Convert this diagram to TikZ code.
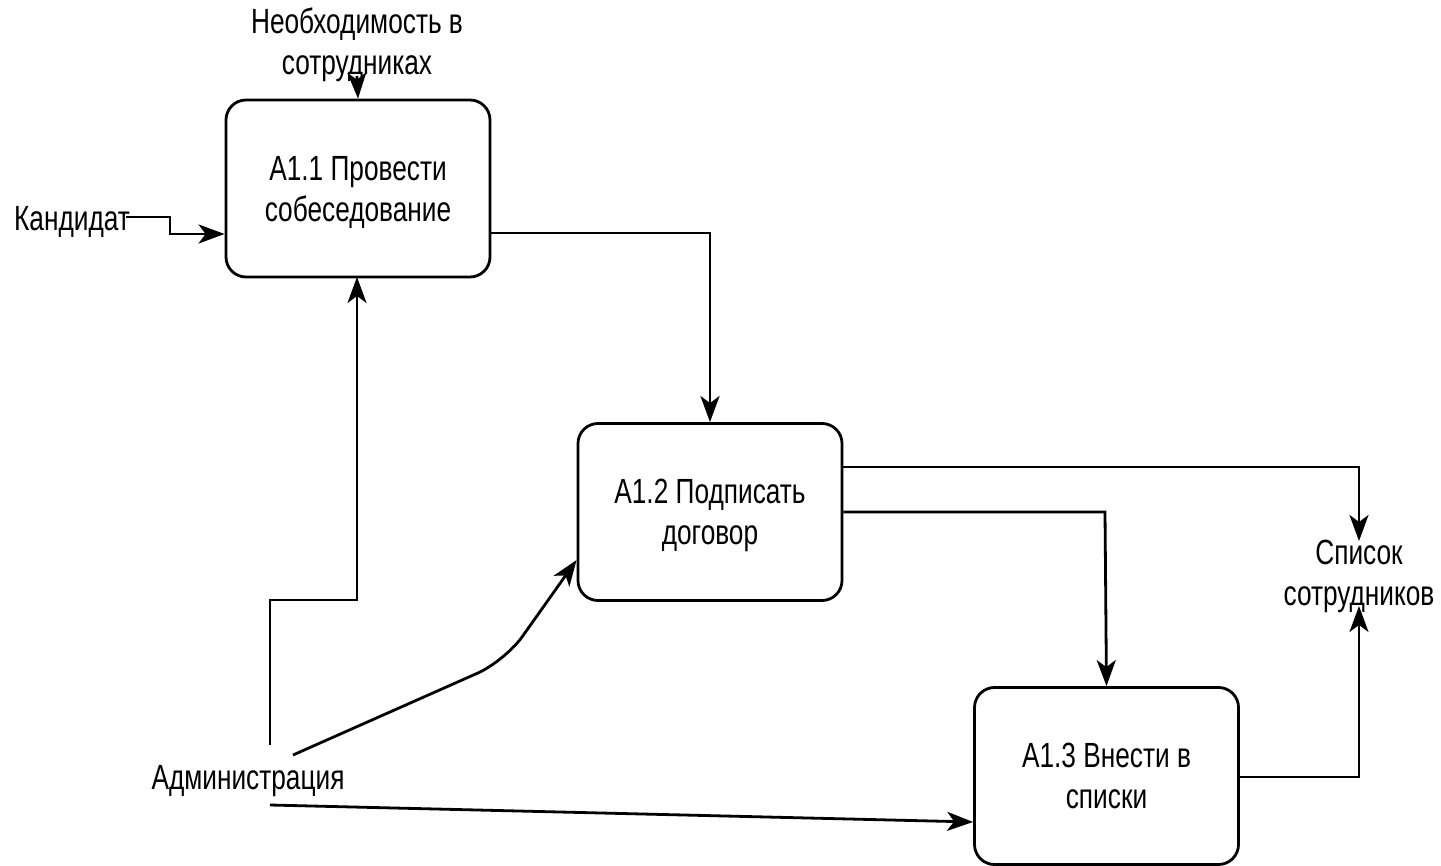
\documentclass[tikz,border=0pt]{standalone}
\usepackage{fontspec}
\setmainfont{Liberation Sans}[FakeStretch=0.75]
\usetikzlibrary{arrows.meta}
\begin{document}
\begin{tikzpicture}[x=1pt,y=-1pt,
  lbl/.style={font=\fontsize{35}{41}\selectfont, align=center, inner sep=0pt},
  proc/.style={draw, line width=2.8pt, rounded corners=20pt, minimum width=264pt,
    minimum height=177pt, align=center, text depth=-2pt, font=\fontsize{35}{41}\selectfont},
  flow/.style={line width=2.8pt, -{Stealth[length=26pt,width=19pt,inset=7pt]}}]
\useasboundingbox (0,0) rectangle (1441,866);

% function blocks
\node[proc] (a11) at (358,188.5) {A1.1 Провести\\собеседование};
\node[proc] (a12) at (710,512) {A1.2 Подписать\\договор};
\node[proc] (a13) at (1106.5,776) {A1.3 Внести в\\списки};

% labels of the boundary arrows
\node[lbl] (need) at (357,45) {Необходимость в\\сотрудниках};
\node[lbl] (kand) at (72,222) {Кандидат};
\node[lbl] (adm) at (248,781) {Администрация};
\node[lbl] (list) at (1359,576) {Список\\сотрудников};

% anchor points of the connectors
\coordinate (needEnd) at (357,76);
\coordinate (kandEnd) at (126,217);
\coordinate (admUp) at (270,745);
\coordinate (admMid) at (293,755);
\coordinate (admLow) at (270,805);
\coordinate (listTop) at (1359,541);
\coordinate (listBot) at (1359,606);

% inputs and controls of A1.1
\draw[flow] (needEnd) -- (a11.north);
\draw[flow] (kandEnd) -- (170,217) -- (170,234) -- (a11.west |- 0,234);
\draw[flow] (admUp) -- (270,600) -- (357,600) -- (357,277);

% A1.1 -> A1.2
\draw[flow] (a11.east |- 0,233) -- (710,233) -- (a12.north);

% Администрация -> A1.2
\draw[flow, rounded corners=30pt] (admMid) -- (505,661) -- (a12.west |- 0,560);

% Администрация -> A1.3
\draw[flow] (admLow) -- (a13.west |- 0,822);

% outputs of A1.2
\draw[flow] (a12.east |- 0,467) -- (1359,467) -- (listTop);
\draw[flow] (a12.east |- 0,512) -- (1105,512) -- (a13.north);

% output of A1.3
\draw[flow] (a13.east |- 0,777) -- (1359,777) -- (listBot);
\end{tikzpicture}
\end{document}
